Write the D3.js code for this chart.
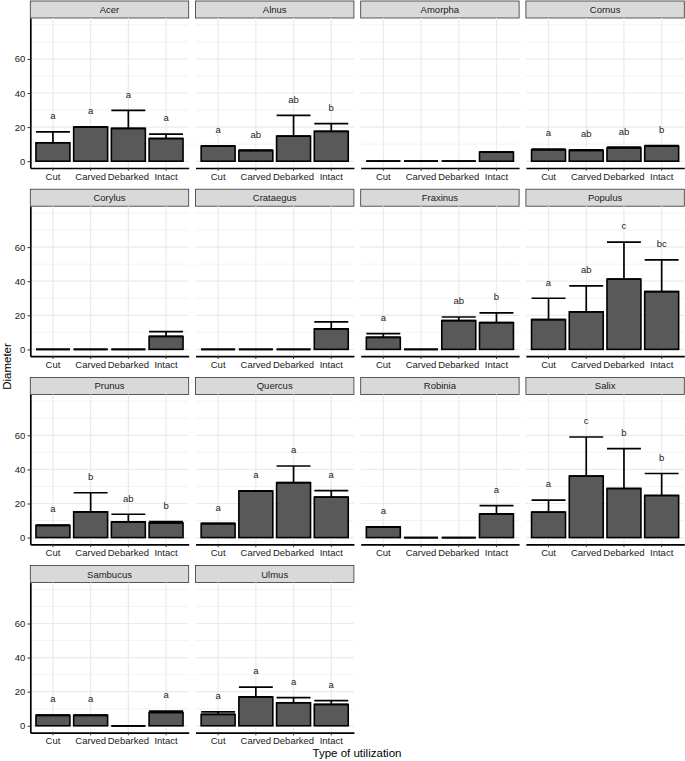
<!DOCTYPE html>
<html>
<head>
<meta charset="utf-8">
<script src="https://cdn.jsdelivr.net/npm/d3@7"></script>
<style>
  html, body { margin: 0; padding: 0; background: #fff; }
  svg { display: block; font-family: "Liberation Sans", Arial, sans-serif; }
</style>
</head>
<body>
<svg id="chart" width="685" height="761"></svg>
<script>
// ---- data ----
const types = ["Cut", "Carved", "Debarked", "Intact"];
const species = ["Acer", "Alnus", "Amorpha", "Cornus", "Corylus", "Crataegus", "Fraxinus",
                 "Populus", "Prunus", "Quercus", "Robinia", "Salix", "Sambucus", "Ulmus"];
const meanValues = [
  [10.8, 20.0, 19.2, 13.3],  // Acer
  [8.8, 6.3, 14.7, 17.5],    // Alnus
  [0, 0, 0, 5.3],            // Amorpha
  [6.7, 6.3, 7.8, 8.8],      // Cornus
  [0, 0, 0, 7.6],            // Corylus
  [0, 0, 0, 12.0],           // Crataegus
  [7.1, 0, 16.9, 15.7],      // Fraxinus
  [17.5, 22.0, 41.2, 33.9],  // Populus
  [7.1, 15.1, 9.2, 8.6],     // Prunus
  [8.2, 27.3, 32.2, 23.7],   // Quercus
  [6.3, 0, 0, 13.9],         // Robinia
  [14.9, 36.1, 28.8, 24.7],  // Salix
  [6.1, 6.1, 0, 7.8],        // Sambucus
  [6.7, 16.9, 13.5, 12.5]    // Ulmus
];
const upperValues = [
  [17.2, 20.0, 29.8, 15.9],
  [8.8, 6.3, 26.9, 22.0],
  [0, 0, 0, 5.3],
  [7.1, 6.6, 8.2, 9.2],
  [0, 0, 0, 10.4],
  [0, 0, 0, 16.1],
  [9.2, 0, 19.0, 21.4],
  [30.0, 37.3, 62.9, 52.5],
  [7.3, 26.3, 13.7, 9.4],
  [8.3, 27.3, 42.0, 27.6],
  [6.3, 0, 0, 18.8],
  [22.0, 59.0, 52.2, 37.6],
  [6.3, 6.3, 0, 8.6],
  [8.2, 22.7, 16.5, 14.7]
];
const letterLabels = [
  ["a", "a", "a", "a"],
  ["a", "ab", "ab", "b"],
  ["", "", "", ""],
  ["a", "ab", "ab", "b"],
  ["", "", "", ""],
  ["", "", "", ""],
  ["a", "", "ab", "b"],
  ["a", "ab", "c", "bc"],
  ["a", "b", "ab", "b"],
  ["a", "a", "a", "a"],
  ["a", "", "", "a"],
  ["a", "c", "b", "b"],
  ["a", "a", "", "a"],
  ["a", "a", "a", "a"]
];
const yTickValues = [0, 20, 40, 60];
const yMajorGrid = [0, 20, 40, 60];
const yMinorGrid = [10, 30, 50, 70, 80];
const yDomain = [-4, 84];
const letterOffset = 9.5;

// ---- layout ----
const ncol = 4;
const left0 = 30.3, panelW = 158.4, gapX = 6.8;
const top0 = 1, stripH = 17, plotH = 150, rowPitch = 188.2;
const font = 9.5;

const svg = d3.select("#chart");

const x = d3.scaleBand().domain(types).range([0, panelW])
  .paddingInner(0.1).paddingOuter(0.15).align(0.5);
const y = d3.scaleLinear().domain(yDomain).range([plotH, 0]);

species.forEach((sp, i) => {
  const col = i % ncol, row = Math.floor(i / ncol);
  const px = left0 + col * (panelW + gapX);
  const stripTop = top0 + row * rowPitch;
  const py = stripTop + stripH;

  // strip
  const strip = svg.append("g").attr("transform", `translate(${px},${stripTop})`);
  strip.append("rect").attr("x", 0).attr("y", 0).attr("width", panelW).attr("height", stripH)
    .attr("fill", "#d9d9d9").attr("stroke", "#333").attr("stroke-width", 0.8);
  strip.append("text").attr("x", panelW / 2).attr("y", stripH / 2)
    .attr("text-anchor", "middle").attr("dominant-baseline", "central")
    .attr("font-size", font).attr("fill", "#1a1a1a").text(sp);

  const g = svg.append("g").attr("transform", `translate(${px},${py})`);

  // grid
  g.selectAll(".minor").data(yMinorGrid).join("line")
    .attr("x1", 0).attr("x2", panelW).attr("y1", d => y(d)).attr("y2", d => y(d))
    .attr("stroke", "#ebebeb").attr("stroke-width", 0.6);
  g.selectAll(".major").data(yMajorGrid).join("line")
    .attr("x1", 0).attr("x2", panelW).attr("y1", d => y(d)).attr("y2", d => y(d))
    .attr("stroke", "#ebebeb").attr("stroke-width", 1.2);
  g.selectAll(".vgrid").data(types).join("line")
    .attr("x1", d => x(d) + x.bandwidth() / 2).attr("x2", d => x(d) + x.bandwidth() / 2)
    .attr("y1", 0).attr("y2", plotH)
    .attr("stroke", "#ebebeb").attr("stroke-width", 1.2);

  const rows = types.map((t, j) => ({
    t, mean: meanValues[i][j], upper: upperValues[i][j], lab: letterLabels[i][j]
  }));

  // bars
  g.selectAll(".bar").data(rows).join("rect")
    .attr("x", d => x(d.t)).attr("width", x.bandwidth())
    .attr("y", d => y(d.mean)).attr("height", d => y(0) - y(d.mean))
    .attr("fill", "#595959").attr("stroke", "#000").attr("stroke-width", 1.6);

  // error bars
  const eb = g.selectAll(".eb").data(rows).join("g");
  eb.append("line")
    .attr("x1", d => x(d.t) + x.bandwidth() / 2).attr("x2", d => x(d.t) + x.bandwidth() / 2)
    .attr("y1", d => y(d.mean)).attr("y2", d => y(d.upper))
    .attr("stroke", "#000").attr("stroke-width", 1.7);
  eb.append("line")
    .attr("x1", d => x(d.t)).attr("x2", d => x(d.t) + x.bandwidth())
    .attr("y1", d => y(d.upper)).attr("y2", d => y(d.upper))
    .attr("stroke", "#000").attr("stroke-width", 1.7);
  eb.append("line")
    .attr("x1", d => x(d.t)).attr("x2", d => x(d.t) + x.bandwidth())
    .attr("y1", d => y(d.mean)).attr("y2", d => y(d.mean))
    .attr("stroke", "#000").attr("stroke-width", 1.7);

  // letters
  g.selectAll(".lab").data(rows.filter(d => d.lab)).join("text")
    .attr("x", d => x(d.t) + x.bandwidth() / 2).attr("y", d => y(d.upper + letterOffset))
    .attr("text-anchor", "middle").attr("dominant-baseline", "central")
    .attr("font-size", font).attr("fill", "#222").text(d => d.lab);

  // x axis
  const xa = g.append("g").attr("transform", `translate(0,${plotH})`)
    .call(d3.axisBottom(x).tickSize(2.75).tickSizeOuter(0).tickPadding(2.2));
  xa.select(".domain").attr("stroke", "#000").attr("stroke-width", 1.7);
  xa.selectAll(".tick line").attr("stroke", "#333").attr("stroke-width", 1);
  xa.selectAll(".tick text").attr("font-size", font).attr("fill", "#1a1a1a")
    .attr("font-family", "Liberation Sans, Arial, sans-serif");

  // y axis on the first column
  if (col === 0) {
    const ya = g.append("g")
      .call(d3.axisLeft(y).tickValues(yTickValues).tickSize(2.75).tickSizeOuter(0).tickPadding(2.2));
    ya.select(".domain").attr("stroke", "#000").attr("stroke-width", 1.7);
    ya.selectAll(".tick line").attr("stroke", "#333").attr("stroke-width", 1);
    ya.selectAll(".tick text").attr("font-size", font).attr("fill", "#1a1a1a")
      .attr("font-family", "Liberation Sans, Arial, sans-serif");
  }
});

// axis titles
svg.append("text").attr("x", 357).attr("y", 756.5).attr("text-anchor", "middle")
  .attr("font-size", 11.5).attr("fill", "#000").text("Type of utilization");
svg.append("text").attr("transform", "translate(10.5,366.5) rotate(-90)")
  .attr("text-anchor", "middle").attr("font-size", 11.5).attr("fill", "#000").text("Diameter");
</script>
</body>
</html>
